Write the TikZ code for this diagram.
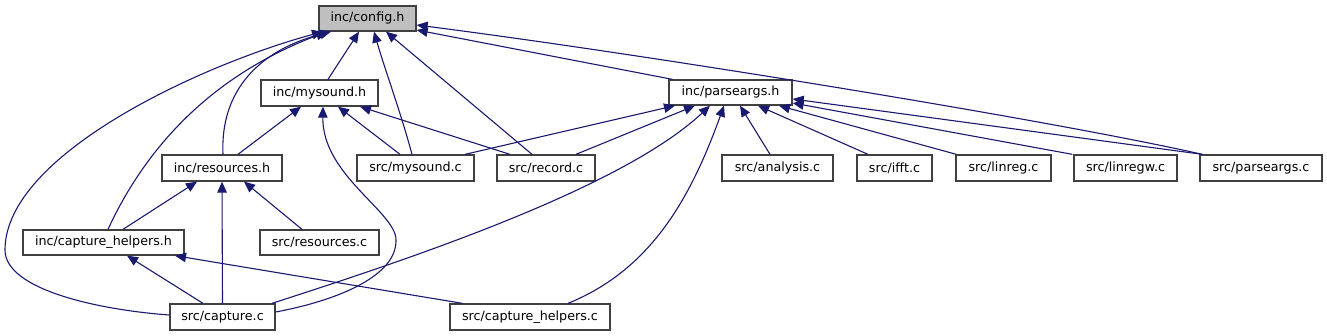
\documentclass[tikz,border=0pt]{standalone}
\usepackage{fontspec}
\setmainfont{DejaVu Sans}
\usetikzlibrary{arrows.meta}
\definecolor{edgeblue}{HTML}{191970}
\definecolor{boxline}{HTML}{404040}
\definecolor{rootfill}{HTML}{BFBFBF}
\begin{document}
\begin{tikzpicture}[x=1pt,y=-1pt,
  filebox/.style={draw=boxline, line width=1.3pt, fill=white, inner sep=0pt,
    minimum height=25pt, font=\fontsize{12.7}{14}\selectfont},
  rootbox/.style={filebox, fill=rootfill},
  dep/.style={draw=edgeblue, line width=1.1pt, -{Triangle[length=11pt,width=9.5pt]}}]
\useasboundingbox (0,0) rectangle (1327,336);
% nodes
\node[rootbox, minimum width=97pt] (config) at (367.5,18.5) {inc/config.h};
\node[filebox, minimum width=117pt, minimum height=26pt] (mysh) at (319.5,93) {inc/mysound.h};
\node[filebox, minimum width=123pt] (parsh) at (730.5,92.5) {inc/parseargs.h};
\node[filebox, minimum width=120pt, minimum height=26pt] (resh) at (222,168) {inc/resources.h};
\node[filebox, minimum width=117pt, minimum height=26pt] (mysc) at (415.5,168) {src/mysound.c};
\node[filebox, minimum width=98pt, minimum height=26pt] (recc) at (546,168) {src/record.c};
\node[filebox, minimum width=111pt, minimum height=26pt] (anac) at (777.5,168) {src/analysis.c};
\node[filebox, minimum width=75pt, minimum height=26pt] (ifftc) at (894.5,168) {src/ifft.c};
\node[filebox, minimum width=95pt, minimum height=26pt] (linregc) at (1003.5,168) {src/linreg.c};
\node[filebox, minimum width=103pt, minimum height=26pt] (linregwc) at (1125.5,168) {src/linregw.c};
\node[filebox, minimum width=122pt, minimum height=26pt] (parsc) at (1261,168) {src/parseargs.c};
\node[filebox, minimum width=161pt] (caphh) at (103.5,242.5) {inc/capture\_helpers.h};
\node[filebox, minimum width=119pt] (resc) at (319.5,242.5) {src/resources.c};
\node[filebox, minimum width=105pt, minimum height=26pt] (capc) at (222.5,317) {src/capture.c};
\node[filebox, minimum width=160pt, minimum height=26pt] (caphc) at (530,317) {src/capture\_helpers.c};
% edges to inc/config.h
\draw[dep] ([yshift=2pt]capc.west) .. controls (100,310) and (5,290) .. (5,250)
  .. controls (5,155) and (200,65) .. ([xshift=-44.5pt]config.south);
\draw[dep] ([xshift=4.5pt]caphh.north) .. controls (140,160) and (200,80) .. ([xshift=-40.5pt]config.south);
\draw[dep] ([xshift=1pt]resh.north) .. controls (220,90) and (260,50) .. ([xshift=-36.5pt]config.south);
\draw[dep] ([xshift=8.5pt]mysh.north) -- ([xshift=-8.5pt]config.south);
\draw[dep] ([xshift=-3.5pt]mysc.north) .. controls (400,110) and (385,70) .. ([xshift=6.5pt]config.south);
\draw[dep] ([xshift=-14pt]recc.north) -- ([xshift=18.5pt]config.south);
\draw[dep] ([xshift=4pt]parsh.north west) -- ([yshift=-11.5pt]config.east);
\draw[dep] ([xshift=3pt]parsc.north west) .. controls (1050,120) and (650,55) .. ([yshift=-6.5pt]config.east);
% edges to inc/mysound.h
\draw[dep] ([xshift=16pt]resh.north) -- ([xshift=-18.5pt]mysh.south);
\draw[dep] ([yshift=5pt]capc.east) .. controls (340,300) and (397,275) .. (396,240)
  .. controls (396,212) and (322,175) .. ([xshift=3.5pt]mysh.south);
\draw[dep] ([xshift=-15.5pt]mysc.north) -- ([xshift=18.5pt]mysh.south);
\draw[dep] ([xshift=-36pt]recc.north) -- ([xshift=40.5pt]mysh.south);
% edges to inc/parseargs.h
\draw[dep] ([xshift=49.5pt]mysc.north) -- ([xshift=-55.5pt]parsh.south);
\draw[dep] ([xshift=30pt]recc.north) -- ([xshift=-35.5pt]parsh.south);
\draw[dep] ([xshift=49.5pt]capc.north) .. controls (400,262) and (620,190) .. ([xshift=-20.5pt]parsh.south);
\draw[dep] ([xshift=38pt]caphc.north) .. controls (650,270) and (690,200) .. ([xshift=-6.5pt]parsh.south);
\draw[dep] ([xshift=-7.5pt]anac.north) -- ([xshift=9.5pt]parsh.south);
\draw[dep] ([xshift=-26.5pt]ifftc.north) -- ([xshift=27.5pt]parsh.south);
\draw[dep] ([xshift=1pt]linregc.north west) -- ([xshift=48.5pt]parsh.south);
\draw[dep] ([xshift=-1pt]linregwc.north west) -- ([yshift=-10.5pt]parsh.east);
\draw[dep] ([xshift=3pt]parsc.north west) -- ([yshift=-6.5pt]parsh.east);
% edges to inc/resources.h
\draw[dep] ([xshift=19.5pt]caphh.north) -- ([xshift=-25pt]resh.south);
\draw[dep] (capc.north) -- (resh.south);
\draw[dep] ([xshift=-17.5pt]resc.north) -- ([xshift=22pt]resh.south);
% edges to inc/capture_helpers.h
\draw[dep] ([xshift=-19.5pt]capc.north) -- ([xshift=23.5pt]caphh.south);
\draw[dep] ([xshift=13pt]caphc.north west) -- ([xshift=71.5pt]caphh.south);
\end{tikzpicture}
\end{document}
